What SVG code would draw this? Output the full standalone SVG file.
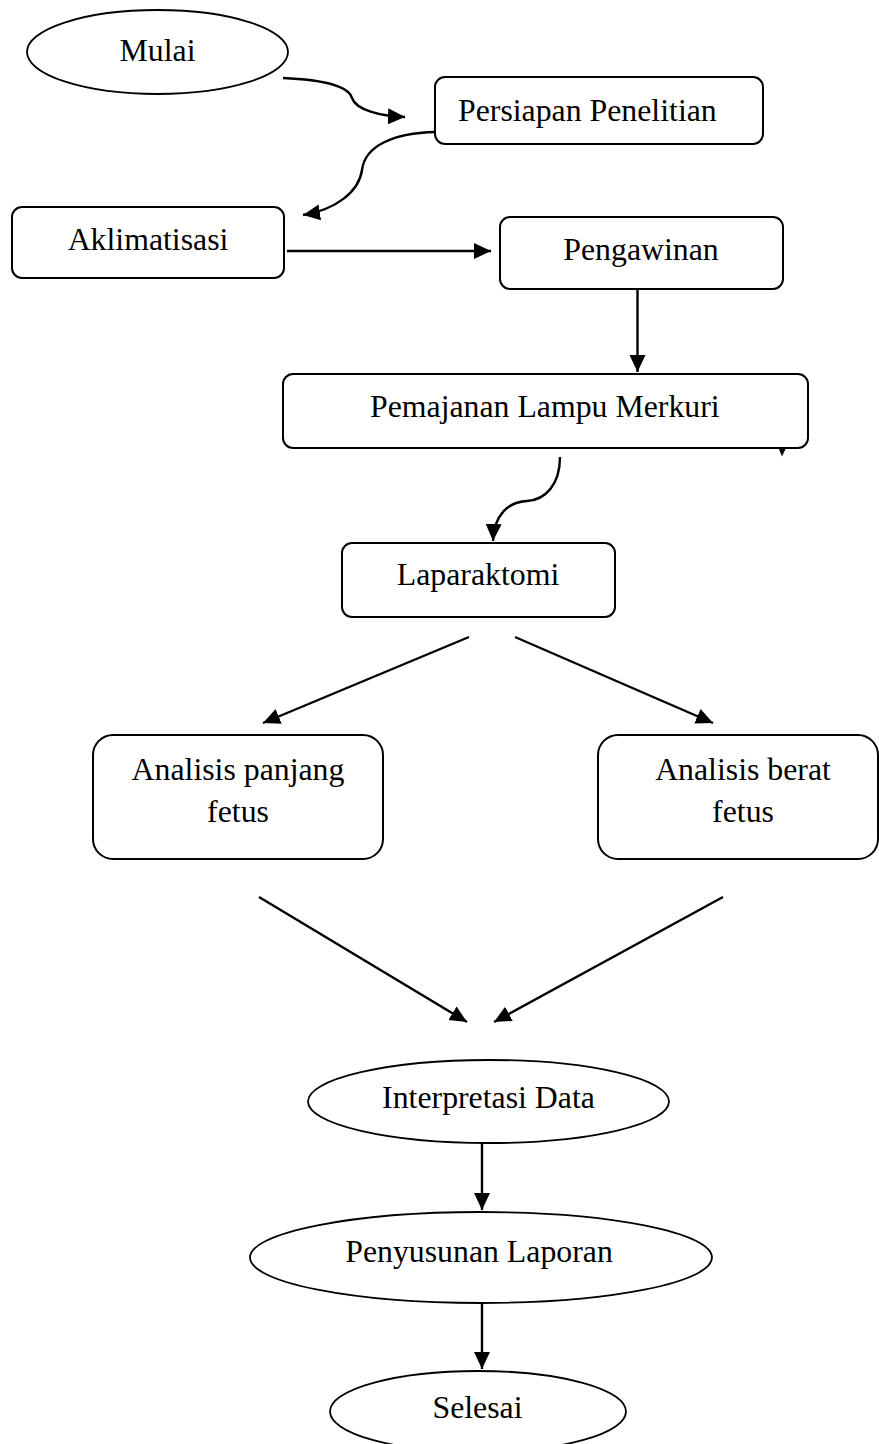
<svg xmlns="http://www.w3.org/2000/svg" width="879" height="1444" viewBox="0 0 879 1444">
<style>
.box{fill:#fff;stroke:#000;stroke-width:2}
.ell{fill:#fff;stroke:#000;stroke-width:1.8}
.t{font-family:"Liberation Serif","Times New Roman",serif;font-size:31.8px;fill:#000}
.c{text-anchor:middle}
.ln{fill:none;stroke:#000;stroke-width:2.4}
</style>
<defs>
<marker id="ah" markerUnits="userSpaceOnUse" markerWidth="20" markerHeight="18" refX="17" refY="8" orient="auto">
<path d="M0,0 L17,8 L0,16 Z" fill="#000"/>
</marker>
</defs>
<rect width="879" height="1444" fill="#fff"/>
<g id="connectors">
<path class="ln" d="M283,78 C330,80 349,88 352,98 C356,110 380,116 405,117" marker-end="url(#ah)"/>
<path class="ln" d="M435,132 C395,133 365,145 362,170 C359,192 335,210 303,215" marker-end="url(#ah)"/>
<path class="ln" d="M287,251 L491,251" marker-end="url(#ah)"/>
<path class="ln" d="M637.5,289 L637.5,372" marker-end="url(#ah)"/>
<path class="ln" d="M560,457 C560,485 545,500 527,501 C508,502 494,515 493,541" marker-end="url(#ah)"/>
<path d="M778.5,448 L786,448 L782,456.5 Z" fill="#000"/>
<path class="ln" d="M469,637 L263,723" marker-end="url(#ah)"/>
<path class="ln" d="M515,637 L713,723" marker-end="url(#ah)"/>
<path class="ln" d="M259,897 L467,1022" marker-end="url(#ah)"/>
<path class="ln" d="M723,897 L494,1022" marker-end="url(#ah)"/>
<path class="ln" d="M482,1143 L482,1210" marker-end="url(#ah)"/>
<path class="ln" d="M482,1303 L482,1369" marker-end="url(#ah)"/>
</g>
<g id="mulai">
<ellipse class="ell" cx="157.5" cy="52" rx="130.5" ry="42"/>
<text class="t c" x="157.5" y="61">Mulai</text>
</g>
<g id="persiapan">
<rect class="box" x="435" y="77" width="328" height="67" rx="10"/>
<text class="t" x="458" y="121">Persiapan Penelitian</text>
</g>
<g id="aklimatisasi">
<rect class="box" x="12" y="207" width="272" height="71" rx="10"/>
<text class="t c" x="148" y="250">Aklimatisasi</text>
</g>
<g id="pengawinan">
<rect class="box" x="500" y="217" width="283" height="72" rx="10"/>
<text class="t c" x="641" y="260">Pengawinan</text>
</g>
<g id="pemajanan">
<rect class="box" x="283" y="374" width="525" height="74" rx="10"/>
<text class="t" x="370" y="417">Pemajanan Lampu Merkuri</text>
</g>
<g id="laparaktomi">
<rect class="box" x="342" y="543" width="273" height="74" rx="10"/>
<text class="t c" x="478" y="585">Laparaktomi</text>
</g>
<g id="analisis-panjang">
<rect class="box" x="93" y="735" width="290" height="124" rx="20"/>
<text class="t c" x="238" y="780">Analisis panjang</text>
<text class="t c" x="238" y="822">fetus</text>
</g>
<g id="analisis-berat">
<rect class="box" x="598" y="735" width="280" height="124" rx="20"/>
<text class="t c" x="743" y="780">Analisis berat</text>
<text class="t c" x="743" y="822">fetus</text>
</g>
<g id="interpretasi">
<ellipse class="ell" cx="488.5" cy="1101.5" rx="180.5" ry="41.5"/>
<text class="t c" x="488.5" y="1108">Interpretasi Data</text>
</g>
<g id="penyusunan">
<ellipse class="ell" cx="481" cy="1257.5" rx="231" ry="45.5"/>
<text class="t c" x="479" y="1262">Penyusunan Laporan</text>
</g>
<g id="selesai">
<ellipse class="ell" cx="478" cy="1411.5" rx="148" ry="40.5"/>
<text class="t c" x="477.5" y="1418">Selesai</text>
</g>
</svg>
